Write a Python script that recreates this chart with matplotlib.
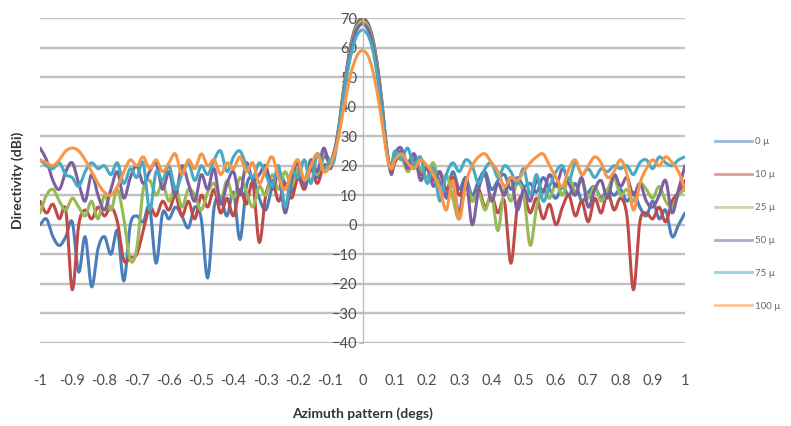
import numpy as np
import matplotlib
matplotlib.use("Agg")
import matplotlib.pyplot as plt
from matplotlib.lines import Line2D

# ---- data ----
# azimuth grid (degs): -1.00..-0.12 step 0.02, -0.10..0.10 step 0.01, 0.12..1.00 step 0.02
az_left = np.round(np.linspace(-1.00, -0.12, 45), 2)
az_lobe = np.round(np.linspace(-0.10, 0.10, 21), 2)
az_right = np.round(np.linspace(0.12, 1.00, 45), 2)
azimuth = np.concatenate([az_left, az_lobe, az_right])

labels = ["0 \u00b5", "10 \u00b5", "25 \u00b5", "50 \u00b5", "75 \u00b5", "100 \u00b5"]
colors = ["#4A7EBB", "#BE4B48", "#98B954", "#7D60A0", "#46AAC5", "#F79646"]

d0_left = [0, 2, -4, -7, -4, 1, -16, -4, -21, -8, -4, -10, -2, -19, 0,
           3, 1, 6, -13, 4, 2, 6, 3, -1, 6, 2, -18, 6, 9, 3,
           11, -5, 13, 16, 9, 5, 13, 18, 14, 11, 18, 13, 21, 16, 23]
d0_lobe = [21, 23, 29, 36, 45, 52, 59, 64, 67.5, 69.3, 70,
           69.3, 67.5, 64, 58.5, 51, 42, 31, 22, 17, 22]
d0_right = [25, 21, 24, 18, 16, 20, 14, 10, 18, 12, 16, 10, 15, 18, 12,
            15, 17, 12, 16, 13, 14, 11, 16, 12, 9, 13, 10, 14, 8, 11,
            13, 9, 12, 10, 12, 8, 11, 6, 3, 8, 2, 5, -4, 0, 4]

d10_left = [8, 4, 7, 2, 5, -22, 0, 5, 2, 6, 3, 6, 1, -12, -11,
            -10, -2, 6, 3, 8, 5, 10, 3, 8, 2, 10, 6, 12, 4, 9,
            3, 12, 7, 14, -6, 10, 15, 8, 14, 9, 16, 12, 19, 14, 20]
d10_lobe = [20, 22, 28, 35.5, 44.5, 51.5, 58.5, 63.5, 67, 68.8, 69.5,
            68.8, 67, 63.5, 58, 50.5, 41.5, 30.5, 22, 18, 21]
d10_right = [24, 20, 22, 17, 19, 15, 18, 12, 16, 10, 14, 8, 12, 6, 10,
             4, 8, -13, 6, 10, 4, 9, 2, 7, 0, 6, 10, 3, 8, 1,
             9, 4, 11, 5, 9, 3, -22, 1, 4, 2, 6, 1, 8, 11, 15]

d25_left = [4, 10, 12, 8, 5, 9, 6, 3, 8, 2, 10, 5, 12, 2, -12,
            -8, 12, 15, 10, 14, 8, 13, 6, 12, 10, 5, 11, 14, 8, 15,
            9, 16, 11, 6, 13, 10, 17, 12, 18, 13, 19, 15, 22, 17, 24]
d25_lobe = [22, 24, 28, 35, 44, 51, 58, 63, 66.5, 68.3, 69,
            68.3, 66.5, 63, 57.5, 50, 41, 30, 22, 19, 23]
d25_right = [23, 18, 21, 19, 16, 21, 12, 17, 9, 2, 14, 8, 11, 5, 10,
             -2, 12, 8, 14, 10, -7, 6, 12, 9, 14, 10, 16, 11, 15, 9,
             13, 8, 12, 16, 10, 12, 8, 14, 12, 9, 13, 8, 6, 10, 12]

d50_left = [26, 22, 15, 12, 18, 21, 14, 8, 17, 10, 5, 12, 18, 9, 16,
            20, 14, 18, 21, 12, 18, 10, 20, 14, 8, 17, 12, 19, 7, 14,
            18, 10, 21, 15, 17, 20, 12, 17, 4, 15, 21, 13, 22, 18, 26]
d50_lobe = [19, 24, 28, 34.5, 43.5, 50.5, 57, 62, 65.5, 67.3, 68,
            67.3, 65.5, 62, 56.5, 49, 40, 29.5, 22, 20, 24]
d50_right = [26, 19, 24, 15, 20, 13, 18, 9, 14, 4, 16, 0, 12, 17, 8,
             14, 10, 16, 5, 12, 8, 15, 11, 17, 13, 19, 14, 10, 16, 6,
             12, 15, 9, 17, 13, 16, 10, 14, 8, 6, 10, 15, 4, 12, 20]

d75_left = [22, 20, 19, 21, 17, 16, 13, 18, 21, 19, 20, 17, 21, 14, 19,
            16, 21, 5, 18, 15, 20, 12, 17, 21, 15, 20, 17, 22, 25, 18,
            23, 25, 20, 16, 21, 17, 13, 20, 6, 18, 16, 22, 14, 24, 19]
d75_lobe = [22, 21, 27, 34, 42.5, 49.5, 55.5, 60, 63.5, 65.3, 66,
            65.3, 63.5, 60, 54.5, 47, 38.5, 28.5, 21.5, 20, 25]
d75_right = [22, 26, 20, 23, 14, 19, 8, 17, 21, 18, 22, 20, 14, 19, 21,
             16, 20, 18, 14, 19, 10, 17, 8, 13, 18, 20, 15, 21, 17, 19,
             16, 19, 18, 20, 19, 20, 17, 21, 22, 19, 23, 21, 20, 22, 23]

d100_left = [22, 21, 20, 22, 25, 26, 25, 22, 18, 14, 11, 10, 13, 18, 22,
             20, 23, 19, 22, 18, 21, 24, 17, 22, 19, 24, 20, 22, 17, 21,
             19, 23, 18, 21, 14, 19, 23, 16, 12, 18, 22, 15, 20, 24, 18]
d100_lobe = [20, 23, 27, 32, 38.5, 44, 49.5, 53.5, 56.5, 58.4, 59,
             58.4, 56.5, 53, 48, 42, 35, 27.5, 21, 19, 22]
d100_right = [24, 21, 19, 22, 20, 17, 12, 5, 15, 2, 14, 20, 23, 24, 21,
              18, 13, 16, 15, 18, 21, 23, 24, 20, 16, 13, 19, 22, 17, 20,
              23, 21, 16, 18, 22, 17, 5, 14, 19, 22, 20, 23, 21, 18, 12]

series = [
    d0_left + d0_lobe + d0_right,
    d10_left + d10_lobe + d10_right,
    d25_left + d25_lobe + d25_right,
    d50_left + d50_lobe + d50_right,
    d75_left + d75_lobe + d75_right,
    d100_left + d100_lobe + d100_right,
]

x_ticks = [-1, -0.9, -0.8, -0.7, -0.6, -0.5, -0.4, -0.3, -0.2, -0.1, 0,
           0.1, 0.2, 0.3, 0.4, 0.5, 0.6, 0.7, 0.8, 0.9, 1]
x_ticklabels = ["-1", "-0.9", "-0.8", "-0.7", "-0.6", "-0.5", "-0.4", "-0.3", "-0.2", "-0.1", "0",
                "0.1", "0.2", "0.3", "0.4", "0.5", "0.6", "0.7", "0.8", "0.9", "1"]
y_ticks = [-40, -30, -20, -10, 0, 10, 20, 30, 40, 50, 60, 70]


def smooth_line(x, y, n=8):
    """Excel-style smoothed line: Catmull-Rom curve through every data point."""
    x = np.asarray(x, float)
    y = np.asarray(y, float)
    xp = np.concatenate([[2 * x[0] - x[1]], x, [2 * x[-1] - x[-2]]])
    yp = np.concatenate([[2 * y[0] - y[1]], y, [2 * y[-1] - y[-2]]])
    t = np.linspace(0, 1, n, endpoint=False)
    ox, oy = [], []
    for i in range(1, len(xp) - 2):
        for arr, out in ((xp, ox), (yp, oy)):
            p0, p1, p2, p3 = arr[i - 1], arr[i], arr[i + 1], arr[i + 2]
            out.extend(0.5 * ((2 * p1) + (-p0 + p2) * t
                              + (2 * p0 - 5 * p1 + 4 * p2 - p3) * t ** 2
                              + (-p0 + 3 * p1 - 3 * p2 + p3) * t ** 3))
    ox.append(x[-1])
    oy.append(y[-1])
    return np.array(ox), np.array(oy)


# ---- figure ----
plt.rcParams['font.family'] = ['Lato', 'DejaVu Sans']
W, H = 791, 426
fig = plt.figure(figsize=(W / 100, H / 100), dpi=100)
left, right, top, bottom = 40, 685, 18, 343
ax = fig.add_axes([left / W, 1 - bottom / H, (right - left) / W, (bottom - top) / H])

for vals, c, lab in zip(series, colors, labels):
    sx, sy = smooth_line(azimuth, vals)
    ax.plot(sx, sy, color=c, lw=2.2, label=lab, solid_joinstyle='round',
            solid_capstyle='round')

ax.set_xlim(-1, 1)
ax.set_ylim(-40, 70)
ax.set_yticks(y_ticks)
ax.set_xticks(x_ticks)
ax.set_xticklabels(x_ticklabels)
ax.grid(axis='y', color='#C0C0C0', lw=1.7)
ax.set_axisbelow(True)

for s in ['top', 'right', 'bottom']:
    ax.spines[s].set_visible(False)
ax.spines['left'].set_position(('data', 0))
ax.spines['left'].set_color('#BDBDBD')
ax.spines['left'].set_linewidth(1.0)
ax.tick_params(axis='y', length=3, color='#BDBDBD', labelsize=10.5, labelcolor='#4D4D4D', pad=1)
ax.tick_params(axis='x', length=0, labelsize=10.5, labelcolor='#4D4D4D', pad=22)

ax.set_xlabel("Azimuth pattern (degs)", fontsize=10, fontweight='bold', color='#333333', labelpad=14)
fig.text(18 / W, 1 - 180 / H, "Directivity (dBi)", rotation=90, fontsize=10,
         fontweight='bold', color='#333333', ha='center', va='center')

handles = [Line2D([0], [0], color=c, lw=2.0, alpha=0.55) for c in colors]
fig.legend(handles, labels, loc='center left', bbox_to_anchor=(715 / W, 1 - 224 / H),
           frameon=False, fontsize=7, handlelength=3.8, handletextpad=0.3,
           labelspacing=2.45, borderpad=0, borderaxespad=0, labelcolor='#666666')

fig.savefig("out.png", dpi=100)
